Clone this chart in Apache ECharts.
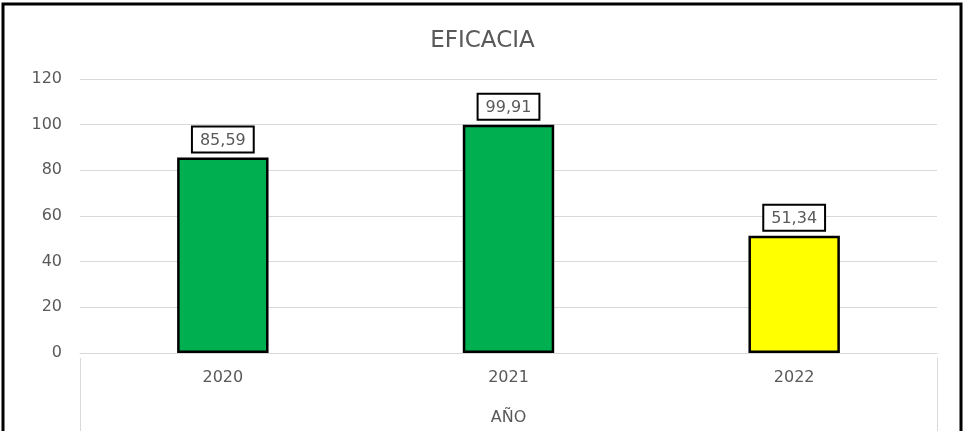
<!DOCTYPE html>
<html>
<head>
<meta charset="utf-8">
<script src="https://cdn.jsdelivr.net/npm/echarts@6/dist/echarts.min.js"></script>
<style>
  html, body { margin: 0; padding: 0; background: #fff; overflow: hidden; }
  #chart { width: 965px; height: 431px; }
</style>
</head>
<body>
<div id="chart"></div>
<script>
const years = ['2020', '2021', '2022']
const eficacia = [85.59, 99.91, 51.34]
const barColors = ['#00B050', '#00B050', '#FFFF00']
const yTicks = { min: 0, max: 120, interval: 20 }

const chart = echarts.init(document.getElementById('chart'), null, { renderer: 'canvas' })
const textColor = '#595959'
const font = 'DejaVu Sans'

chart.setOption({
  animation: false,
  title: {
    text: 'EFICACIA',
    left: 'center',
    top: 25,
    textStyle: { color: textColor, fontSize: 23, fontWeight: 'normal', fontFamily: font }
  },
  grid: { left: 80, right: 28, top: 79, bottom: 73 },
  xAxis: {
    type: 'category',
    data: years,
    name: 'AÑO',
    nameLocation: 'middle',
    nameGap: 57,
    nameTextStyle: { color: textColor, fontSize: 16, fontFamily: font },
    axisLine: { lineStyle: { color: '#d9d9d9', width: 1 } },
    axisTick: { show: false },
    axisLabel: { color: textColor, fontSize: 16, fontFamily: font, margin: 17 }
  },
  yAxis: {
    type: 'value',
    min: yTicks.min,
    max: yTicks.max,
    interval: yTicks.interval,
    axisLine: { show: false },
    axisTick: { show: false },
    axisLabel: { color: textColor, fontSize: 16, fontFamily: font, margin: 18 },
    splitLine: { lineStyle: { color: '#d9d9d9', width: 1 } }
  },
  series: [
    {
      type: 'bar',
      barWidth: '32%',
      data: eficacia.map((v, i) => ({
        value: v,
        itemStyle: { color: barColors[i] }
      })),
      itemStyle: { borderColor: '#000', borderWidth: 2.5 },
      label: {
        show: true,
        position: 'top',
        distance: 6,
        color: textColor,
        fontSize: 16,
        fontFamily: font,
        backgroundColor: '#fff',
        borderColor: '#000',
        borderWidth: 2,
        padding: [5, 7, 3, 7],
        formatter: p => String(p.value).replace('.', ',')
      }
    }
  ],
  graphic: [
    {
      type: 'rect',
      shape: { x: 3, y: 4, width: 958, height: 440 },
      style: { fill: 'none', stroke: '#000', lineWidth: 3 },
      silent: true
    },
    {
      type: 'line',
      shape: { x1: 80.5, y1: 358, x2: 80.5, y2: 431 },
      style: { stroke: '#d9d9d9', lineWidth: 1 }
    },
    {
      type: 'line',
      shape: { x1: 937.5, y1: 358, x2: 937.5, y2: 431 },
      style: { stroke: '#d9d9d9', lineWidth: 1 }
    }
  ]
})
</script>
</body>
</html>
